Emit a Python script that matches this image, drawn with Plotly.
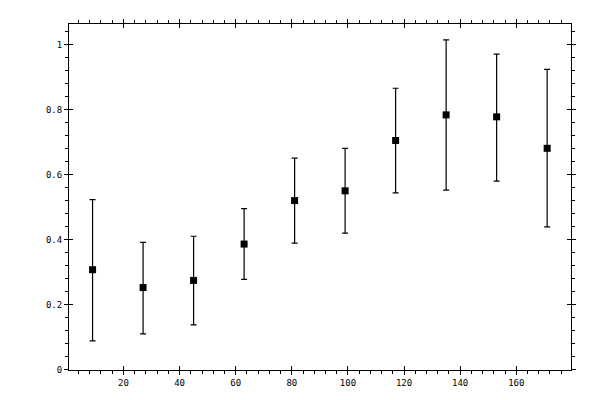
import plotly.graph_objects as go

# bin centres and measured values
x_vals = [9, 27, 45, 63, 81, 99, 117, 135, 153, 171]
y_vals = [0.307, 0.252, 0.274, 0.386, 0.520, 0.550, 0.705, 0.784, 0.778, 0.681]
y_high = [0.523, 0.391, 0.410, 0.495, 0.651, 0.681, 0.866, 1.015, 0.971, 0.924]
y_low = [0.088, 0.109, 0.137, 0.277, 0.389, 0.420, 0.544, 0.552, 0.580, 0.439]

err_plus = [h - y for h, y in zip(y_high, y_vals)]
err_minus = [y - l for l, y in zip(y_low, y_vals)]

xr = [0.6, 179.5]
yr = [-0.002, 1.064]
font = dict(family="DejaVu Sans Mono", size=9, color="black")

fig = go.Figure()
fig.add_trace(go.Scatter(
    x=x_vals, y=y_vals, mode="markers",
    marker=dict(symbol="square", size=7, color="black"),
    error_y=dict(type="data", symmetric=False, array=err_plus, arrayminus=err_minus,
                 color="black", thickness=1.2, width=3),
    showlegend=False))
# dummy trace so the overlay axes (inner half of the major ticks) get drawn
fig.add_trace(go.Scatter(x=[None], y=[None], xaxis="x2", yaxis="y2", showlegend=False))

# page body has an 8px margin, so figure is a bit smaller than the window
fig.update_layout(
    width=592, height=392,
    margin=dict(l=61, r=29, t=11, b=30),
    plot_bgcolor="white", paper_bgcolor="white",
    font=font,
    xaxis=dict(range=xr, tick0=0, dtick=20, ticks="outside", ticklen=4, tickwidth=1,
               tickcolor="black", showline=True, linecolor="black", linewidth=1,
               mirror="ticks", showgrid=False, zeroline=False, tickfont=font,
               minor=dict(tick0=0, dtick=4, ticks="outside", ticklen=3, tickcolor="black",
                          showgrid=False)),
    yaxis=dict(range=yr, tick0=0, dtick=0.2, ticks="outside", ticklen=4, tickwidth=1,
               tickcolor="black", showline=True, linecolor="black", linewidth=1,
               mirror="ticks", showgrid=False, zeroline=False, tickfont=font,
               minor=dict(tick0=0, dtick=0.04, ticks="outside", ticklen=3, tickcolor="black",
                          showgrid=False)),
    xaxis2=dict(range=xr, overlaying="x", tick0=0, dtick=20, ticks="inside", ticklen=4,
                tickcolor="black", mirror="ticks", showticklabels=False,
                showgrid=False, zeroline=False, showline=False),
    yaxis2=dict(range=yr, overlaying="y", tick0=0, dtick=0.2, ticks="inside", ticklen=4,
                tickcolor="black", mirror="ticks", showticklabels=False,
                showgrid=False, zeroline=False, showline=False),
)

fig.write_html("out.html")
